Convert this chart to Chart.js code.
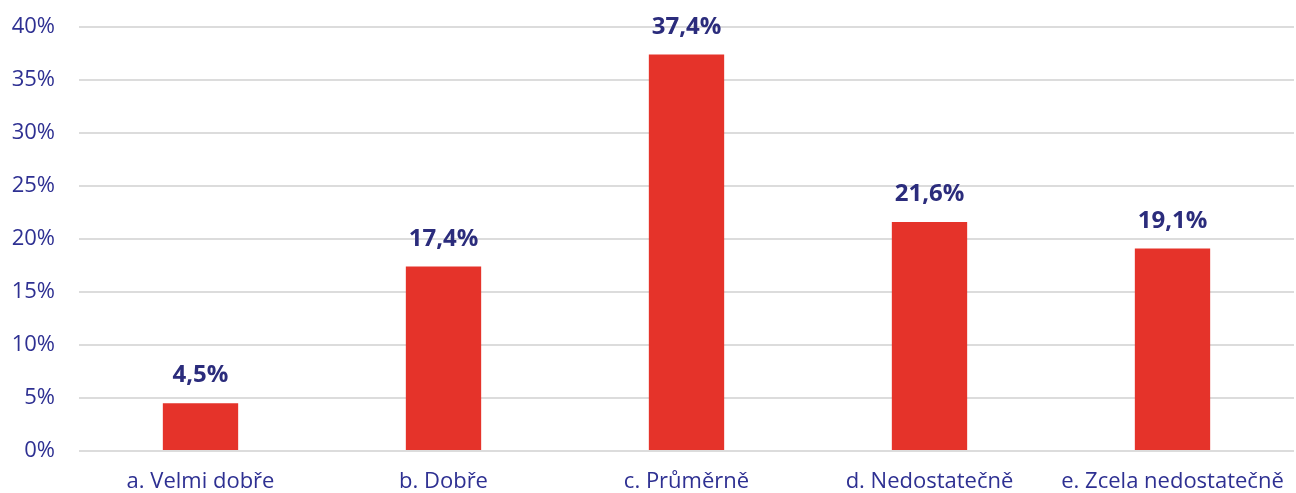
<!DOCTYPE html>
<html>
<head>
<meta charset="utf-8">
<script src="https://cdn.jsdelivr.net/npm/chart.js@4"></script>
<style>
html,body{margin:0;padding:0;background:#fff;}
#wrap{width:1296px;height:493px;}
</style>
</head>
<body>
<div id="wrap"><canvas id="c" width="1296" height="493"></canvas></div>
<script>
const categories = ["a. Velmi dobře", "b. Dobře", "c. Průměrně", "d. Nedostatečně", "e. Zcela nedostatečně"];
const values = [4.5, 17.4, 37.4, 21.6, 19.1];
const valueLabels = ["4,5%", "17,4%", "37,4%", "21,6%", "19,1%"];
const yTicks = [0, 5, 10, 15, 20, 25, 30, 35, 40];

const labelPlugin = {
  id: 'valueLabels',
  afterDatasetsDraw(chart) {
    const ctx = chart.ctx;
    const meta = chart.getDatasetMeta(0);
    ctx.save();
    ctx.font = 'bold 24px "Open Sans"';
    ctx.fillStyle = '#2b2c7c';
    ctx.textAlign = 'center';
    ctx.textBaseline = 'alphabetic';
    meta.data.forEach((bar, i) => {
      ctx.fillText(valueLabels[i], bar.x, bar.y - 21);
    });
    ctx.restore();
  }
};

new Chart(document.getElementById('c'), {
  type: 'bar',
  data: {
    labels: categories,
    datasets: [{
      data: values,
      backgroundColor: '#e5332a',
      borderWidth: 0,
      categoryPercentage: 1,
      barPercentage: 0.31
    }]
  },
  options: {
    responsive: false,
    animation: false,
    devicePixelRatio: 1,
    layout: { padding: { top: 27, right: 2, left: 0, bottom: 0 } },
    plugins: { legend: { display: false }, tooltip: { enabled: false } },
    scales: {
      x: {
        grid: { display: false, drawTicks: false },
        border: { display: false },
        ticks: { color: '#2e3092', font: { family: '"Open Sans"', size: 22 }, padding: 18, maxRotation: 0, autoSkip: false },
        afterFit(s) { s.height = 42; s.paddingLeft = 0; s.paddingRight = 0; }
      },
      y: {
        min: 0, max: 40,
        afterBuildTicks(s) { s.ticks = yTicks.map(v => ({ value: v })); },
        grid: { color: '#dcdcdc', lineWidth: 2, drawTicks: false },
        border: { display: false },
        ticks: { color: '#2e3092', font: { family: '"Open Sans"', size: 22 }, padding: 24, callback: v => v + '%' },
        afterFit(s) { s.width = 79; s.paddingTop = 0; s.paddingBottom = 0; }
      }
    }
  },
  plugins: [labelPlugin]
});
</script>
</body>
</html>
